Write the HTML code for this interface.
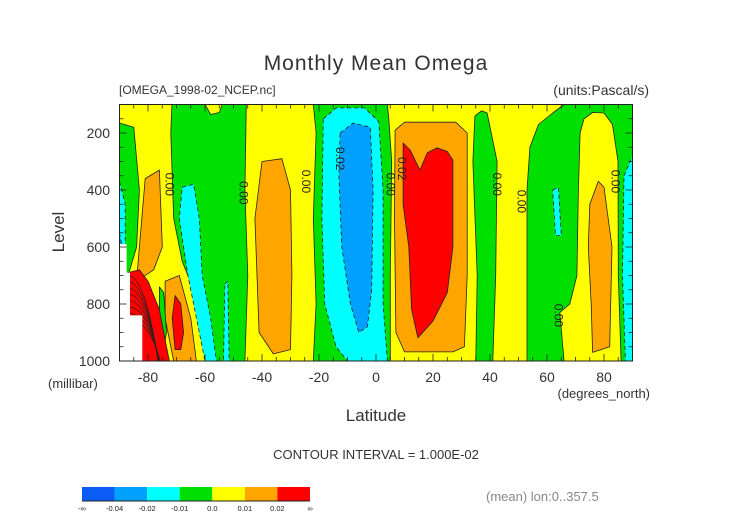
<!DOCTYPE html>
<html><head><meta charset="utf-8"><style>
html,body{margin:0;padding:0;background:#fff;}
svg{display:block;font-family:"Liberation Sans",sans-serif;}
</style></head><body>
<svg id="chart" width="752" height="532" viewBox="0 0 752 532" xmlns="http://www.w3.org/2000/svg">
<text x="376" y="70" text-anchor="middle" font-size="21" fill="#333" letter-spacing="1">Monthly Mean Omega</text>
<text x="119" y="94" font-size="12" fill="#333">[OMEGA_1998-02_NCEP.nc]</text>
<text x="649" y="95" text-anchor="end" font-size="14" fill="#333">(units:Pascal/s)</text>
<g id="plot"></g>
<g id="axes"></g>
<text transform="translate(64,232) rotate(-90)" text-anchor="middle" font-size="17" fill="#333">Level</text>
<text x="48" y="388" font-size="13" fill="#333">(millibar)</text>
<text x="376" y="421" text-anchor="middle" font-size="17" fill="#333">Latitude</text>
<text x="650" y="398" text-anchor="end" font-size="13" fill="#333">(degrees_north)</text>
<text x="376" y="459" text-anchor="middle" font-size="13" fill="#333">CONTOUR INTERVAL = 1.000E-02</text>
<text x="486" y="501" font-size="13" fill="#888">(mean) lon:0..357.5</text>
<g id="cbar"></g>
</svg>
<script>
// ---- data ----
const latTicks = [-80,-60,-40,-20,0,20,40,60,80];
const levelTicks = [200,400,600,800,1000];
const cbarLabels = ["-\u221e","-0.04","-0.02","-0.01","0.0","0.01","0.02","\u221e"];
const cbarColors = ["#0a5cf5","#00a0ff","#00ffff","#00e000","#ffff00","#ffa500","#ff0000"];
// filled contour regions: [lat, level] vertices
const yellowRegions = [
 [[-90,100],[-71.6,100],[-72,200],[-71,500],[-68,650],[-62,800],[-60,1000],[-90,1000]],
 [[-60,100],[-54,100],[-55,128],[-58,135]],
 [[-45.5,100],[-22,100],[-21,200],[-22,500],[-21,800],[-22,1000],[-46,1000],[-45,700],[-46,400]],
 [[4,100],[66,100],[62,130],[57,170],[54,250],[53,400],[53,1000],[5,1000],[5,700],[5.5,300],[4.5,150]],
 [[71.6,200],[73,150],[76,128],[80,130],[83,170],[84.9,300],[85,700],[86,1000],[66,1000],[64.5,830],[68,800],[70.5,700],[71,400]]
];
const greenRegions = [
 [[-90,165],[-85,180],[-83,400],[-84,600],[-87,700],[-90,720]],
 [[34.7,140],[37,122],[39,130],[42.5,300],[42,700],[41,1000],[35,1000],[35.5,700],[34,300]]
];
const orangeRegions = [
 [[-40,300],[-33,290],[-30,400],[-29.5,700],[-30,960],[-36,975],[-41,900],[-42.5,500]],
 [[-81,360],[-76,330],[-75,600],[-78,680],[-84,720],[-83,600]],
 [[-74,720],[-69,700],[-65,850],[-63,1000],[-71,1000],[-74,850]],
 [[6.7,190],[10,162],[28,162],[32,200],[32,700],[31,950],[27,968],[10,968],[7,900],[6.5,500]],
 [[75,450],[78,370],[80,390],[82.8,600],[82,950],[76,970],[75.5,800],[74.5,600]]
];
const innerGreenRegions = [
 [[-76,740],[-74.5,760],[-73.5,900],[-74.5,960],[-76,880]]
];
const redRegions = [
 [[-87,690],[-83,680],[-80,720],[-76,820],[-73.5,950],[-72.5,1000],[-87,1000]],
 [[-70.5,770],[-68.5,800],[-67.5,900],[-68.5,960],[-70.5,960],[-71.5,850]],
 [[9.5,235],[12,260],[15.4,330],[18,270],[21.4,252],[25,265],[27,295],[27,600],[25,760],[20,860],[14.7,919],[12.5,820],[11.5,600],[9.5,450]]
];
const cyanRegions = [
 [[-90,370],[-88,450],[-88,600],[-90,620]],
 [[-68,390],[-64,380],[-62,500],[-61,700],[-58,850],[-56,1000],[-60,1000],[-66,700],[-69,500]],
 [[-53,730],[-52,720],[-51.5,1000],[-53.5,1000]],
 [[-18.5,150],[-14,112],[-4,112],[1,160],[2.5,400],[2.5,800],[4,1000],[-10,1000],[-14,950],[-18,800],[-19,500]],
 [[62,400],[64,390],[65,560],[63,560]],
 [[87,350],[90,280],[90,1000],[87.5,1000],[86.5,700]]
];
const blueRegions = [
 [[-90,550],[-89,600],[-90,640]],
 [[-12.6,200],[-8,165],[-2,180],[-1,400],[-1.5,750],[-3,880],[-6,900],[-9,800],[-12,600],[-13,350]]
];
const whiteRegions = [
 [[-90,590],[-87.5,590],[-87.5,690],[-86.3,690],[-86.3,840],[-82,840],[-82,1000],[-90,1000]]
];
const labelText = ["0.00","0.00","0.00","0.02","0.00","0.02","0.00","0.00","0.00","0.00"];
const labelLat = [-72.5,-46.5,-24.5,-12.6,5,9.1,42.5,51,64,84];
const labelLevel = [380,410,370,290,380,325,380,440,840,370];
// ---- axes ----
const X0=119.5, X1=632.5, Y0=104.5, Y1=361;
const xs = lat => X0 + (lat+90)/180*(X1-X0);
const ys = p => Y0 + (p-100)/900*(Y1-Y0);
const NS="http://www.w3.org/2000/svg";
function mk(tag, attrs, parent){const e=document.createElementNS(NS,tag);for(const k in attrs)e.setAttribute(k,attrs[k]);parent.appendChild(e);return e;}
const plot=document.getElementById('plot');
const axes=document.getElementById('axes');
const bg=mk('rect',{x:X0,y:Y0,width:X1-X0,height:Y1-Y0,fill:"#00e000"},plot);


const cp=mk('clipPath',{id:'clip'},plot);
mk('rect',{x:X0,y:Y0,width:X1-X0,height:Y1-Y0},cp);
const g=mk('g',{'clip-path':'url(#clip)'},plot);
function drawRegions(list,fill,name,dashed){
 list.forEach((poly,i)=>{
  const pts=poly.map(v=>xs(v[0]).toFixed(1)+","+ys(v[1]).toFixed(1)).join(" ");
  const e=mk('polygon',{points:pts,fill:fill,stroke:fill==="#fff"?"none":"#222","stroke-width":"0.8","stroke-dasharray":dashed?"4,3":"none","stroke-linejoin":"round"},g);
  
  
 });
}
drawRegions(yellowRegions,"#ffff00","yellow-region",false);
drawRegions(greenRegions,"#00e000","green-region",false);
drawRegions(orangeRegions,"#ffa500","orange-region",false);
drawRegions(innerGreenRegions,"#00e000","inner-green-region",false);
drawRegions(redRegions,"#ff0000","red-region",false);
drawRegions(cyanRegions,"#00ffff","cyan-region",true);
drawRegions(blueRegions,"#00a0ff","blue-region",true);
// concentric contour lines in strong red blob
for(let k=0;k<8;k++){
 const l=mk('path',{d:`M${xs(-87)},${ys(700+k*22)} Q${xs(-81+k*0.2)},${ys(700+k*22)} ${xs(-76.5+k*0.1)},${ys(1000)}`,fill:"none",stroke:"#222","stroke-width":"0.7"},g);
 
 
}
drawRegions(whiteRegions,"#fff","missing-region",false);
labelText.forEach((t,i)=>{
 const x=xs(labelLat[i]), y=ys(labelLevel[i]);
 const e=mk('text',{transform:`translate(${x-4},${y}) rotate(90)`,'text-anchor':'middle','font-size':'12',fill:'#222'},g);
 e.textContent=t;
 
 
});
const frame=mk('rect',{x:X0,y:Y0,width:X1-X0,height:Y1-Y0,fill:"none",stroke:"#222","stroke-width":"1"},axes);


for(let lat=-90;lat<=90;lat+=5){
 const len = lat%20===0 ? 7 : 4;
 mk('line',{x1:xs(lat),x2:xs(lat),y1:Y1,y2:Y1-len,stroke:"#222","stroke-width":"0.8"},axes);
 mk('line',{x1:xs(lat),x2:xs(lat),y1:Y0,y2:Y0+len,stroke:"#222","stroke-width":"0.8"},axes);
}
for(let p=100;p<=1000;p+=50){
 const len = p%200===0 ? 7 : 4;
 mk('line',{x1:X0,x2:X0+len,y1:ys(p),y2:ys(p),stroke:"#222","stroke-width":"0.8"},axes);
 mk('line',{x1:X1,x2:X1-len,y1:ys(p),y2:ys(p),stroke:"#222","stroke-width":"0.8"},axes);
}
latTicks.forEach(v=>{
 const t=mk('text',{x:xs(v),y:382,'text-anchor':'middle','font-size':'14',fill:'#333'},axes);
 t.textContent=v;
 
 
});
levelTicks.forEach(v=>{
 const t=mk('text',{x:110,y:ys(v)+5,'text-anchor':'end','font-size':'14',fill:'#333'},axes);
 t.textContent=v;
 
 
});
// colorbar
const cb=document.getElementById('cbar');
const CX=82, CW=228/cbarColors.length;
cbarColors.forEach((c,i)=>{
 const r=mk('rect',{x:CX+i*CW,y:487,width:CW,height:14,fill:c},cb);
 
 
});
mk('line',{x1:CX,x2:CX+228,y1:501,y2:501,stroke:"#222","stroke-width":"1"},cb);
cbarLabels.forEach((t,i)=>{
 const e=mk('text',{x:CX+i*CW,y:511,'text-anchor':'middle','font-size':'7.5',fill:'#222'},cb);
 e.textContent=t;
 
 
});
</script>
</body></html>
